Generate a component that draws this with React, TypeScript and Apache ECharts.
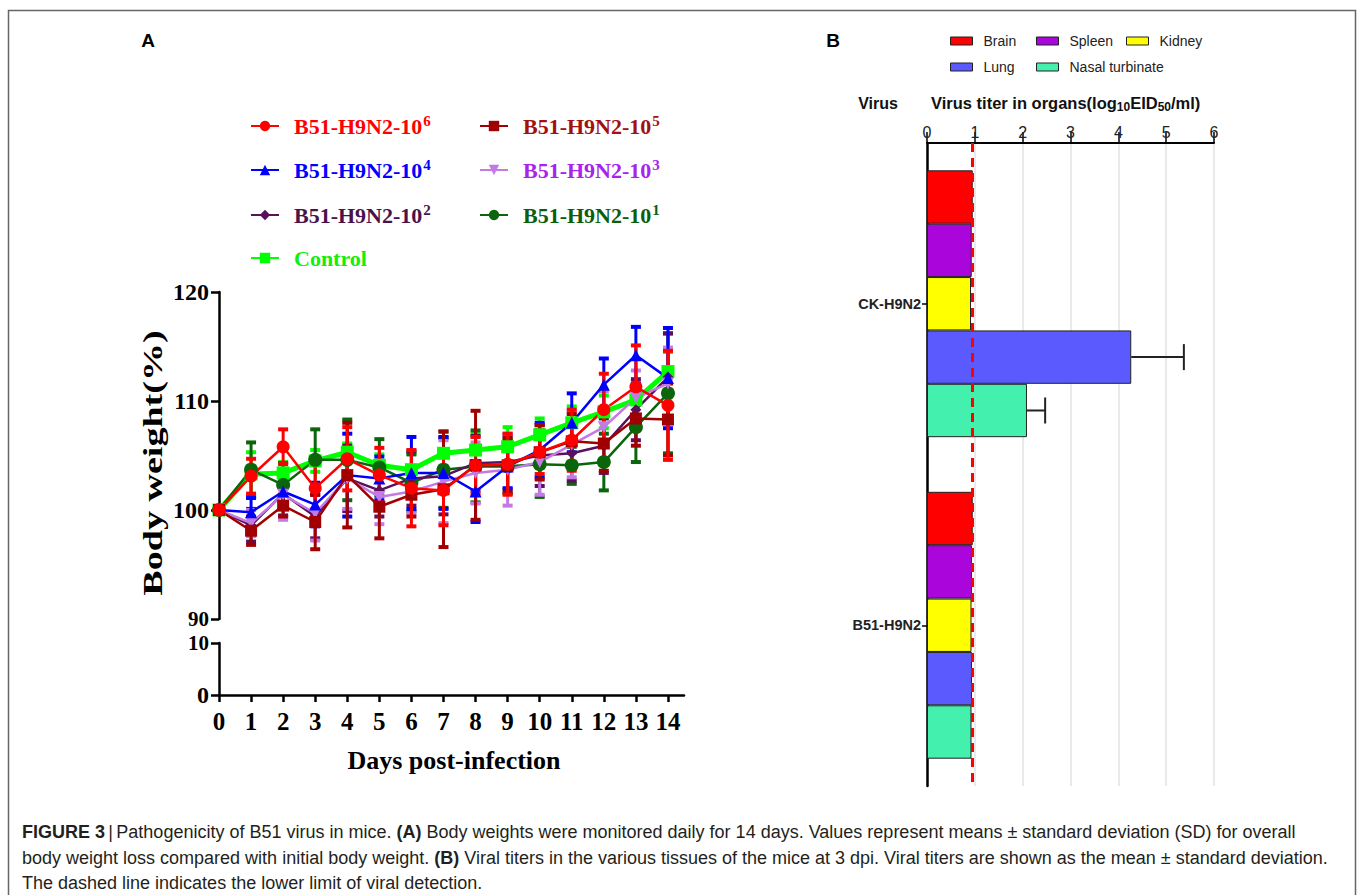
import React, { useEffect, useRef } from 'react';
import * as echarts from 'echarts';

// ---------- Panel A data ----------
const days = [0, 1, 2, 3, 4, 5, 6, 7, 8, 9, 10, 11, 12, 13, 14];
const groupNames = [
  'B51-H9N2-10^6',
  'B51-H9N2-10^5',
  'B51-H9N2-10^4',
  'B51-H9N2-10^3',
  'B51-H9N2-10^2',
  'B51-H9N2-10^1',
  'Control',
];
const mean106 = [100, 103.1, 105.8, 102.0, 104.7, 103.2, 102.0, 101.8, 104.1, 104.2, 105.3, 106.4, 109.2, 111.3, 109.6];
const sd106 = [0, 1.6, 1.6, 2.5, 2.9, 2.5, 3.5, 3.2, 2.6, 2.8, 2.0, 2.8, 3.3, 3.8, 5.0];
const mean105 = [100, 98.1, 100.4, 98.9, 103.2, 100.3, 101.4, 101.9, 104.1, 104.1, 105.3, 106.3, 106.1, 108.4, 108.3];
const sd105 = [0, 1.3, 1.0, 2.5, 4.8, 2.9, 2.0, 5.3, 5.0, 2.5, 2.5, 2.5, 2.5, 2.5, 3.3];
const mean104 = [100, 99.8, 101.7, 100.5, 103.2, 102.9, 103.4, 103.4, 101.7, 104.0, 105.5, 108.0, 111.5, 114.2, 112.1];
const sd104 = [0, 1.3, 1.5, 2.0, 3.8, 2.0, 3.3, 3.3, 2.8, 2.0, 2.5, 2.7, 2.4, 2.6, 4.6];
const mean103 = [100, 98.8, 101.4, 99.7, 102.9, 101.2, 101.7, 102.6, 103.4, 103.7, 104.4, 106.0, 107.6, 110.3, 111.6];
const sd103 = [0, 1.2, 2.3, 2.5, 2.8, 2.5, 2.0, 3.8, 2.8, 3.3, 3.0, 3.0, 3.3, 2.5, 3.3];
const mean102 = [100, 98.6, 101.5, 99.4, 102.9, 101.8, 102.9, 103.1, 104.3, 104.4, 105.0, 105.2, 105.9, 109.2, 112.2];
const sd102 = [0, 1.5, 2.0, 2.0, 3.0, 2.4, 2.5, 3.5, 2.5, 2.5, 2.8, 2.5, 2.5, 2.8, 4.0];
const mean101 = [100, 103.7, 102.3, 104.6, 104.6, 103.9, 102.5, 103.7, 104.0, 104.0, 104.2, 104.1, 104.4, 107.6, 110.7];
const sd101 = [0, 2.5, 2.0, 2.8, 3.7, 2.6, 2.6, 3.5, 3.3, 2.5, 3.0, 1.7, 2.6, 3.2, 5.5];
const meanCtrl = [100, 103.3, 103.4, 104.5, 105.3, 104.1, 103.7, 105.2, 105.5, 105.8, 106.9, 108.0, 109.0, 110.1, 112.7];
const sdCtrl = [0, 2.0, 1.0, 1.0, 0.8, 1.0, 1.5, 1.5, 1.5, 1.8, 1.5, 1.5, 1.5, 1.5, 1.8];
const upperTicks = [90, 100, 110, 120];
const lowerTicks = [0, 10];

// ---------- Panel B data ----------
const viruses = ['CK-H9N2', 'B51-H9N2'];
const organs = ['Brain', 'Spleen', 'Kidney', 'Lung', 'Nasal turbinate'];
const titerCK = [0.956, 0.935, 0.92, 4.27, 2.09];
const sdCK = [0, 0, 0, 1.1, 0.38];
const titerB51 = [0.956, 0.94, 0.93, 0.94, 0.93];
const sdB51 = [0, 0, 0, 0, 0];
const detectionLimit = 0.95;

const SERIF = "'Liberation Serif', 'DejaVu Serif', serif";
const SANS = "'Liberation Sans', Arial, sans-serif";

const groupStyles = [
  { line: '#ff0000', text: '#ff0000', symbol: 'circle', size: 13, rot: 0, width: 2.5 },
  { line: '#a00000', text: '#a31010', symbol: 'rect', size: 12, rot: 0, width: 2.5 },
  { line: '#0000ff', text: '#0000ff', symbol: 'triangle', size: 12, rot: 0, width: 2.5 },
  { line: '#c47ae4', text: '#aa22ee', symbol: 'triangle', size: 12, rot: 180, width: 2.5 },
  { line: '#5a105a', text: '#4a124a', symbol: 'diamond', size: 11, rot: 0, width: 2.5 },
  { line: '#0b650b', text: '#0b5e0b', symbol: 'circle', size: 14, rot: 0, width: 2.5 },
  { line: '#00ff00', text: '#11ee11', symbol: 'rect', size: 13, rot: 0, width: 5 },
];
const groupMeans = [mean106, mean105, mean104, mean103, mean102, mean101, meanCtrl];
const groupSds = [sd106, sd105, sd104, sd103, sd102, sd101, sdCtrl];
const legendSpots = [
  [250, 113], [479, 113], [250, 157], [479, 157], [250, 202], [479, 202], [250, 247],
];
const drawOrder = [6, 5, 4, 3, 2, 1, 0];

const organColors = ['#ff0000', '#aa06dc', '#ffff00', '#5a5aff', '#44f0ae'];
const organLegendSpots = [
  [950, 34], [1036, 34], [1126, 34], [950, 60], [1036, 60],
];

function errRenderer(color: string) {
  return (params: any, api: any) => {
    const x = api.value(0);
    const lo = api.value(1);
    const hi = api.value(2);
    const t = api.coord([x, hi]);
    const b = api.coord([x, lo]);
    const cap = 5;
    return {
      type: 'group',
      children: [
        { type: 'line', shape: { x1: t[0], y1: t[1], x2: b[0], y2: b[1] }, style: { stroke: color, lineWidth: 3 } },
        { type: 'line', shape: { x1: t[0] - cap, y1: t[1], x2: t[0] + cap, y2: t[1] }, style: { stroke: color, lineWidth: 4 } },
        { type: 'line', shape: { x1: b[0] - cap, y1: b[1], x2: b[0] + cap, y2: b[1] }, style: { stroke: color, lineWidth: 4 } },
      ],
    };
  };
}

const barCatGap = 0.17;

function barErrRenderer(params: any, api: any) {
  const v = api.value(0);
  const sd = api.value(1);
  const cat = api.value(2);
  const k = api.value(3);
  const c = api.coord([v, cat]);
  const e = api.coord([v + sd, cat]);
  const band = Math.abs(api.size([0, 1])[1]);
  const barsW = band * (1 - barCatGap);
  const barW = barsW / organs.length;
  const y = c[1] - barsW / 2 + (k + 0.5) * barW;
  return {
    type: 'group',
    children: [
      { type: 'line', shape: { x1: c[0], y1: y, x2: e[0], y2: y }, style: { stroke: '#222', lineWidth: 2 } },
      { type: 'line', shape: { x1: e[0], y1: y - 13, x2: e[0], y2: y + 13 }, style: { stroke: '#222', lineWidth: 2 } },
    ],
  };
}

function legendFormatter(name: string) {
  const parts = name.split('^');
  return parts.length > 1 ? `{b|${parts[0]}}{s|${parts[1]}}` : `{b|${parts[0]}}`;
}

export default function App() {
  const ref = useRef<HTMLDivElement>(null);
  useEffect(() => {
    if (!ref.current) return;
    const chart = echarts.init(ref.current, undefined, { renderer: 'svg' });

    const series: any[] = [];
    drawOrder.forEach((g) => {
      const st = groupStyles[g];
      const m = groupMeans[g];
      const s = groupSds[g];
      series.push({
        type: 'custom',
        name: groupNames[g] + ' SD',
        xAxisIndex: 0,
        yAxisIndex: 0,
        silent: true,
        renderItem: errRenderer(st.line),
        encode: { x: 0, y: [1, 2] },
        data: days.filter((d) => s[d] > 0).map((d) => [d, m[d] - s[d], m[d] + s[d]]),
      });
      series.push({
        type: 'line',
        name: groupNames[g],
        xAxisIndex: 0,
        yAxisIndex: 0,
        data: days.map((d) => [d, m[d]]),
        symbol: st.symbol,
        symbolSize: st.size,
        symbolRotate: st.rot,
        lineStyle: { color: st.line, width: st.width },
        itemStyle: { color: st.line },
        showAllSymbol: true,
        silent: true,
      });
    });

    organs.forEach((o, i) => {
      series.push({
        type: 'bar',
        name: o,
        xAxisIndex: 1,
        yAxisIndex: 2,
        data: [titerCK[i], titerB51[i]],
        barGap: '0%',
        barCategoryGap: barCatGap * 100 + '%',
        itemStyle: { color: organColors[i], borderColor: '#222', borderWidth: 1 },
        silent: true,
        markLine:
          i === organs.length - 1
            ? {
                silent: true,
                symbol: ['none', 'none'],
                label: { show: false },
                lineStyle: { color: '#ff0000', width: 3, type: [9, 6] },
                data: [{ xAxis: detectionLimit }],
              }
            : undefined,
      });
    });

    const barErrData: number[][] = [];
    [sdCK, sdB51].forEach((sds, ci) => {
      const vals = ci === 0 ? titerCK : titerB51;
      sds.forEach((sd, k) => {
        if (sd > 0) barErrData.push([vals[k], sd, ci, k]);
      });
    });
    series.push({
      type: 'custom',
      name: 'titer SD',
      xAxisIndex: 1,
      yAxisIndex: 2,
      silent: true,
      renderItem: barErrRenderer,
      encode: { x: 0, y: 2 },
      data: barErrData,
    });

    const legends: any[] = groupNames.map((n, g) => ({
      show: true,
      data: [n],
      left: legendSpots[g][0],
      top: legendSpots[g][1],
      padding: 0,
      itemWidth: 28,
      itemHeight: 13,
      selectedMode: false,
      formatter: legendFormatter,
      textStyle: {
        rich: {
          b: {
            fontFamily: SERIF,
            fontWeight: 'bold',
            fontSize: 22,
            lineHeight: 26,
            color: groupStyles[g].text,
            padding: [0, 0, 0, 10],
          },
          s: {
            fontFamily: SERIF,
            fontWeight: 'bold',
            fontSize: 15,
            lineHeight: 12,
            verticalAlign: 'top',
            color: groupStyles[g].text,
            padding: [0, 0, 0, 1],
          },
        },
      },
    }));
    organs.forEach((o, i) => {
      legends.push({
        show: true,
        data: [o],
        left: organLegendSpots[i][0],
        top: organLegendSpots[i][1],
        padding: 0,
        itemWidth: 22,
        itemHeight: 8,
        icon: 'rect',
        selectedMode: false,
        itemStyle: { borderColor: '#222', borderWidth: 1 },
        formatter: (n: string) => `{t|${n}}`,
        textStyle: {
          rich: {
            t: { fontFamily: SANS, fontSize: 14, color: '#222', padding: [0, 0, 0, 6] },
          },
        },
      });
    });

    const axisBlack = { show: true, lineStyle: { color: '#000', width: 2.5 } };
    const serifLabel = { fontFamily: SERIF, fontWeight: 'bold', fontSize: 24, color: '#000' };
    const smallRich = { s: { fontFamily: SERIF, fontWeight: 'bold', fontSize: 21, color: '#000' } };

    const option: any = {
      animation: false,
      backgroundColor: '#fff',
      legend: legends,
      grid: [
        { left: 219, top: 292, width: 465, height: 327, containLabel: false },
        { left: 219, top: 643, width: 465, height: 52, containLabel: false },
        { left: 927, top: 143, width: 287, height: 643, containLabel: false },
      ],
      xAxis: [
        { type: 'value', gridIndex: 0, min: 0, max: 14.5, show: false },
        {
          type: 'value',
          gridIndex: 2,
          position: 'top',
          min: 0,
          max: 6,
          interval: 1,
          axisLine: { show: true, lineStyle: { color: '#000', width: 2 } },
          axisTick: { show: true, length: 11, lineStyle: { color: '#000', width: 1.5 } },
          axisLabel: { fontFamily: SANS, fontSize: 16, color: '#222', margin: 3 },
          splitLine: { show: true, lineStyle: { color: '#e2e2e2', width: 1.5 } },
        },
        {
          type: 'value',
          gridIndex: 1,
          min: 0,
          max: 14.5,
          interval: 1,
          axisLine: axisBlack,
          axisTick: { show: true, length: 7, lineStyle: { color: '#000', width: 2.5 }, customValues: days },
          axisLabel: {
            ...serifLabel,
            fontSize: 25,
            margin: 14,
            customValues: days,
            formatter: (v: number) => (Number.isInteger(v) ? String(v) : ''),
          },
          splitLine: { show: false },
        },
      ],
      yAxis: [
        {
          type: 'value',
          gridIndex: 0,
          min: upperTicks[0],
          max: upperTicks[upperTicks.length - 1],
          interval: 10,
          axisLine: axisBlack,
          axisTick: { show: true, length: 8, lineStyle: { color: '#000', width: 2.5 } },
          axisLabel: {
            ...serifLabel,
            margin: 10,
            formatter: (v: number) => (v === upperTicks[0] ? `{s|${v}}` : String(v)),
            rich: smallRich,
          },
          splitLine: { show: false },
        },
        {
          type: 'value',
          gridIndex: 1,
          min: lowerTicks[0],
          max: lowerTicks[lowerTicks.length - 1],
          interval: 10,
          axisLine: axisBlack,
          axisTick: { show: true, length: 8, lineStyle: { color: '#000', width: 2.5 } },
          axisLabel: {
            ...serifLabel,
            margin: 10,
            formatter: (v: number) => (v === lowerTicks[1] ? `{s|${v}}` : String(v)),
            rich: smallRich,
          },
          splitLine: { show: false },
        },
        {
          type: 'category',
          gridIndex: 2,
          data: viruses,
          inverse: true,
          axisLine: { show: true, lineStyle: { color: '#000', width: 2.5 } },
          axisTick: { show: true, alignWithLabel: true, length: 5, lineStyle: { color: '#000', width: 1.5 } },
          axisLabel: { fontFamily: SANS, fontWeight: 'bold', fontSize: 14.5, color: '#222', margin: 6 },
          splitLine: { show: false },
        },
      ],
      series,
      graphic: [
        {
          type: 'rect',
          silent: true,
          shape: { x: 8.5, y: 10.5, width: 1347, height: 910 },
          style: { fill: 'none', stroke: '#666', lineWidth: 1.5 },
        },
        {
          type: 'text',
          x: 148,
          y: 40,
          style: { text: 'A', fontFamily: SANS, fontWeight: 'bold', fontSize: 19, fill: '#000', textAlign: 'center', textVerticalAlign: 'middle' },
        },
        {
          type: 'text',
          x: 833,
          y: 40,
          style: { text: 'B', fontFamily: SANS, fontWeight: 'bold', fontSize: 19, fill: '#000', textAlign: 'center', textVerticalAlign: 'middle' },
        },
        {
          type: 'text',
          x: 152,
          y: 463,
          rotation: Math.PI / 2,
          scaleX: 1.36,
          style: { text: 'Body weight(%)', fontFamily: SERIF, fontWeight: 'bold', fontSize: 28, fill: '#000', textAlign: 'center', textVerticalAlign: 'middle' },
        },
        {
          type: 'text',
          x: 454,
          y: 760,
          style: { text: 'Days post-infection', fontFamily: SERIF, fontWeight: 'bold', fontSize: 26, fill: '#000', textAlign: 'center', textVerticalAlign: 'middle' },
        },
        {
          type: 'text',
          x: 878,
          y: 103,
          style: { text: 'Virus', fontFamily: SANS, fontWeight: 'bold', fontSize: 16, fill: '#111', textAlign: 'center', textVerticalAlign: 'middle' },
        },
        {
          type: 'text',
          x: 931,
          y: 103,
          style: {
            text: '{t|Virus titer in organs(log}{s|10}{t|EID}{s|50}{t|/ml)}',
            textAlign: 'left',
            textVerticalAlign: 'middle',
            rich: {
              t: { fontFamily: SANS, fontWeight: 'bold', fontSize: 16.5, lineHeight: 20, fill: '#111' },
              s: { fontFamily: SANS, fontWeight: 'bold', fontSize: 12, lineHeight: 10, verticalAlign: 'bottom', fill: '#111' },
            },
          },
        },
        ...[
          '{b|FIGURE 3} {r||} {r|Pathogenicity of B51 virus in mice. }{b|(A)}{r| Body weights were monitored daily for 14 days. Values represent means ± standard deviation (SD) for overall}',
          '{r|body weight loss compared with initial body weight. }{b|(B)}{r| Viral titers in the various tissues of the mice at 3 dpi. Viral titers are shown as the mean ± standard deviation.}',
          '{r|The dashed line indicates the lower limit of viral detection.}',
        ].map((line, i) => ({
          type: 'text',
          x: 22,
          y: 832 + i * 25.5,
          style: {
            text: line,
            textAlign: 'left',
            textVerticalAlign: 'middle',
            rich: {
              r: { fontFamily: SANS, fontSize: 18, fill: '#231f20' },
              b: { fontFamily: SANS, fontWeight: 'bold', fontSize: 18, fill: '#231f20' },
            },
          },
        })),
      ],
    };
    chart.setOption(option);
    return () => chart.dispose();
  }, []);
  return <div ref={ref} style={{ position: 'absolute', left: 0, top: 0, width: 1358, height: 895 }} />;
}
